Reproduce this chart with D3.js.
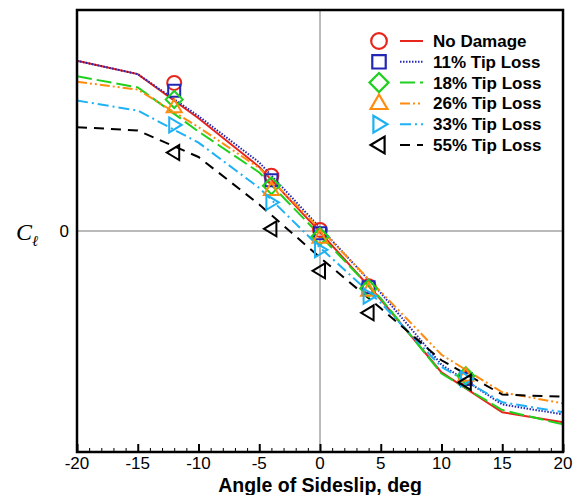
<!DOCTYPE html>
<html>
<head>
<meta charset="utf-8">
<script src="https://cdn.jsdelivr.net/npm/d3@7"></script>
<style>
  body { margin: 0; background: #fff; }
  text { font-family: "Liberation Sans", Arial, sans-serif; }
</style>
</head>
<body>
<svg id="chart" width="584" height="495"></svg>
<script>
// sideslip angles for the computed curves
var beta = [-20, -15, -10, -5, 0, 5, 10, 15, 20];
// sideslip angles for the test points
var betaExp = [-12, -4, 0, 4, 12];

var seriesNames = ['No Damage', '11% Tip Loss', '18% Tip Loss', '26% Tip Loss', '33% Tip Loss', '55% Tip Loss'];

// computed rolling moment coefficient, one array per case
var clNoDamage = [0.0154, 0.0142, 0.0102, 0.0058, -0.0001, -0.0062, -0.0128, -0.0164, -0.0173];
var clTip11    = [0.0154, 0.0142, 0.0104, 0.0062, 0.0003, -0.0056, -0.0121, -0.0157, -0.0166];
var clTip18    = [0.0140, 0.0130, 0.0090, 0.0053, -0.0004, -0.0061, -0.0129, -0.0162, -0.0175];
var clTip26    = [0.0135, 0.0128, 0.0094, 0.0057, 0.0002, -0.0055, -0.0112, -0.0146, -0.0156];
var clTip33    = [0.0118, 0.0109, 0.0080, 0.0039, -0.0015, -0.0065, -0.0123, -0.0155, -0.0164];
var clTip55    = [0.0094, 0.0091, 0.0067, 0.0024, -0.0024, -0.0070, -0.0117, -0.0148, -0.0150];

// measured values (symbols)
var expNoDamage = [0.0134, 0.0050, 0.0001, -0.0050, -0.0133];
var expTip11    = [0.0127, 0.0046, -0.0002, -0.0051, -0.0134];
var expTip18    = [0.0119, 0.0041, -0.0005, -0.0052, -0.0131];
var expTip26    = [0.0112, 0.0037, -0.0006, -0.0054, -0.0131];
var expTip33    = [0.0096, 0.0026, -0.0017, -0.0059, -0.0134];
var expTip55    = [0.0071, 0.0002, -0.0036, -0.0074, -0.0137];

var xTicks = [-20, -15, -10, -5, 0, 5, 10, 15, 20];

var colors = ['#e8251c', '#2227b5', '#1fd01f', '#ff8c0f', '#1eb1f4', '#000000'];
var dashes = [null, '1.5,1.5', '15,5', '10,3,2,3,2,3', '11,4,2,4', '10,7'];
var symbols = ['circle', 'square', 'diamond', 'triUp', 'triRight', 'triLeft'];

var curves = [clNoDamage, clTip11, clTip18, clTip26, clTip33, clTip55];
var points = [expNoDamage, expTip11, expTip18, expTip26, expTip33, expTip55];

var svg = d3.select('#chart');
var margin = {left: 77, right: 21, top: 10, bottom: 43};
var w = 584 - margin.left - margin.right;
var h = 495 - margin.top - margin.bottom;

var x = d3.scaleLinear().domain([-20, 20]).range([margin.left, margin.left + w]);
var y = d3.scaleLinear().domain([-0.02, 0.02]).range([margin.top + h, margin.top]);

var g = svg.append('g');

// zero reference lines
g.append('line')
    .attr('x1', x(0)).attr('x2', x(0))
    .attr('y1', y(-0.02)).attr('y2', y(0.02))
    .style('stroke', '#777').style('stroke-width', 1);
g.append('line')
    .attr('x1', x(-20)).attr('x2', x(20))
    .attr('y1', y(0)).attr('y2', y(0))
    .style('stroke', '#777').style('stroke-width', 1);

// x axis, ticks pointing inward
var xAxis = d3.axisTop(x).tickValues(d3.range(-20, 21, 1)).tickSize(4).tickFormat('');
var ax = g.append('g').attr('transform', 'translate(0,' + (margin.top + h) + ')').call(xAxis);
ax.select('.domain').remove();
ax.selectAll('line').style('stroke', '#000').style('stroke-width', 1);
ax.selectAll('.tick').filter(function(d) { return d % 5 === 0; })
    .select('line').attr('y2', -8).style('stroke-width', 2);

g.selectAll('.xlab')
    .data(xTicks)
    .enter().append('text')
    .attr('class', 'xlab')
    .attr('x', function(d) { return x(d); })
    .attr('y', 469)
    .attr('text-anchor', 'middle')
    .style('font-size', '17px')
    .text(function(d) { return d; });

g.append('text')
    .attr('x', x(0))
    .attr('y', 491.5)
    .attr('text-anchor', 'middle')
    .style('font-size', '19.5px')
    .style('font-weight', 'bold')
    .text('Angle of Sideslip, deg');

// y label
g.append('text')
    .attr('x', margin.left - 8)
    .attr('y', y(0) + 6)
    .attr('text-anchor', 'end')
    .style('font-size', '17px')
    .text('0');
var cl = g.append('text')
    .attr('x', 16)
    .attr('y', y(0) + 9)
    .style('font-family', '"Liberation Serif", "Times New Roman", serif')
    .style('font-style', 'italic')
    .style('font-size', '24px')
    .text('C');
cl.append('tspan')
    .attr('dy', 6)
    .style('font-size', '15px')
    .text('\u2113');

// curves
var line = d3.line()
    .x(function(d) { return x(d[0]); })
    .y(function(d) { return y(d[1]); });

curves.forEach(function(c, i) {
    g.append('path')
        .datum(d3.zip(beta, c))
        .attr('d', line)
        .style('fill', 'none')
        .style('stroke', colors[i])
        .style('stroke-width', 2)
        .style('stroke-dasharray', dashes[i]);
});

function symbolPath(type, cx, cy, k) {
    k = k || 1;
    var r = 7 * k;
    if (type === 'circle') {
        return 'M' + (cx + r) + ',' + cy + 'A' + r + ',' + r + ' 0 1,1 ' + (cx - r) + ',' + cy +
            'A' + r + ',' + r + ' 0 1,1 ' + (cx + r) + ',' + cy + 'Z';
    }
    var p;
    if (type === 'square') p = [[-6, -6], [6, -6], [6, 6], [-6, 6]];
    if (type === 'diamond') p = [[0, -8.5], [8.5, 0], [0, 8.5], [-8.5, 0]];
    if (type === 'triUp') p = [[0, -8], [7.5, 5], [-7.5, 5]];
    if (type === 'triRight') p = [[7.5, 0], [-5, -7.5], [-5, 7.5]];
    if (type === 'triLeft') p = [[-7.5, 0], [5, -7.5], [5, 7.5]];
    return 'M' + p.map(function(q) { return (cx + q[0] * k) + ',' + (cy + q[1] * k); }).join('L') + 'Z';
}

// test data symbols
points.forEach(function(s, i) {
    g.selectAll('.sym' + i)
        .data(d3.zip(betaExp, s))
        .enter().append('path')
        .attr('class', 'sym' + i)
        .attr('d', function(d) { return symbolPath(symbols[i], x(d[0]), y(d[1])); })
        .style('fill', 'none')
        .style('stroke', colors[i])
        .style('stroke-width', 2);
});

// frame
g.append('rect')
    .attr('x', margin.left).attr('y', margin.top)
    .attr('width', w).attr('height', h)
    .style('fill', 'none')
    .style('stroke', '#000')
    .style('stroke-width', 2.5);

// legend
var legend = g.append('g').attr('transform', 'translate(379,41)');
seriesNames.forEach(function(name, i) {
    var row = legend.append('g').attr('transform', 'translate(0,' + (i * 20.8) + ')');
    row.append('path')
        .attr('d', symbolPath(symbols[i], 0, 0, 1.12))
        .style('fill', 'none')
        .style('stroke', colors[i])
        .style('stroke-width', 2.2);
    row.append('line')
        .attr('x1', 21).attr('x2', 44)
        .attr('y1', 0).attr('y2', 0)
        .style('stroke', colors[i])
        .style('stroke-width', 2)
        .style('stroke-dasharray', dashes[i]);
    row.append('text')
        .attr('x', 54)
        .attr('y', 6)
        .style('font-size', '17px')
        .style('font-weight', 'bold')
        .text(name);
});
</script>
</body>
</html>
